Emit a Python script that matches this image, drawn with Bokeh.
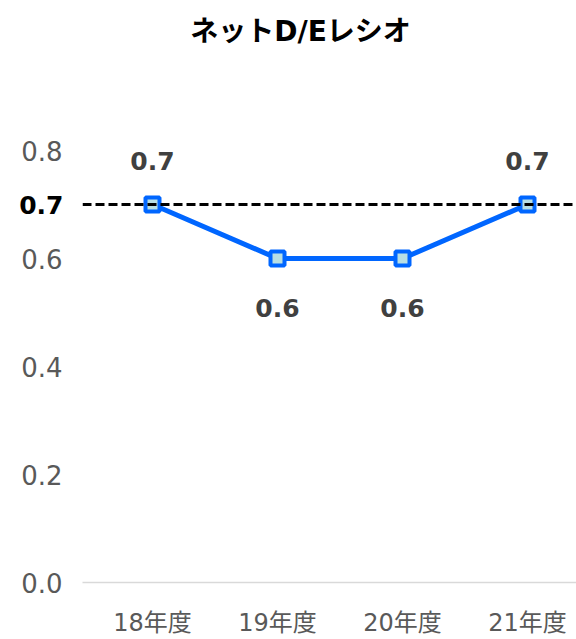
from bokeh.plotting import figure
from bokeh.models import (Range1d, FixedTicker, Span, Label, ColumnDataSource,
                          PrintfTickFormatter, LinearAxis)
from bokeh.core.properties import value
from bokeh.embed import file_html
from bokeh.resources import INLINE

title_text = "ネットD/Eレシオ"
categories = ["18年度", "19年度", "20年度", "21年度"]
values = [0.7, 0.6, 0.6, 0.7]
ref_value = 0.7
y_ticks = [0.0, 0.2, 0.4, 0.6, 0.8]

FONT = "DejaVu Sans, Noto Sans CJK JP"
W, H = 576, 639
LEFT, BOTTOM = 82, 57
frame_h = H - BOTTOM
px_per_unit = 540.0
cat_w = 125.0
first_center = 152 - LEFT

xs = list(range(len(categories)))
x_start = -first_center / cat_w
x_end = x_start + (W - LEFT) / cat_w

p = figure(width=W, height=H, output_backend="svg", toolbar_location=None,
           x_range=Range1d(x_start, x_end), y_range=Range1d(0, frame_h / px_per_unit),
           min_border_left=LEFT, min_border_right=0, min_border_top=0, min_border_bottom=BOTTOM)
p.outline_line_color = None
p.background_fill_color = "white"
p.border_fill_color = "white"
p.xgrid.visible = False
p.ygrid.visible = False


def style_y(ax):
    ax.axis_line_color = None
    ax.major_tick_line_color = None
    ax.minor_tick_line_color = None
    ax.major_tick_out = 0
    ax.major_tick_in = 0
    ax.minor_tick_out = 0
    ax.major_label_text_font = FONT


# main y axis (grey ticks)
p.yaxis.ticker = FixedTicker(ticks=y_ticks)
p.yaxis.formatter = PrintfTickFormatter(format="%.1f")
style_y(p.yaxis[0])
p.yaxis.major_label_standoff = 20
p.yaxis.major_label_text_font_size = "26px"
p.yaxis.major_label_text_color = "#595959"

# second axis carrying only the bold reference value label
ref_axis = LinearAxis(ticker=FixedTicker(ticks=[ref_value]),
                      formatter=PrintfTickFormatter(format="%.1f"))
style_y(ref_axis)
ref_axis.major_label_standoff = -45
ref_axis.major_label_text_font_size = "25px"
ref_axis.major_label_text_font_style = "bold"
ref_axis.major_label_text_color = "black"
p.add_layout(ref_axis, "left")

p.xaxis.ticker = FixedTicker(ticks=xs)
p.xaxis.major_label_overrides = {i: c for i, c in zip(xs, categories)}
p.xaxis.axis_line_color = "#d9d9d9"
p.xaxis.axis_line_width = 1.5
p.xaxis.major_tick_line_color = None
p.xaxis.minor_tick_line_color = None
p.xaxis.major_tick_out = 0
p.xaxis.major_tick_in = 0
p.xaxis.minor_tick_out = 0
p.xaxis.major_label_standoff = 26
p.xaxis.major_label_text_font = FONT
p.xaxis.major_label_text_font_size = "24px"
p.xaxis.major_label_text_color = "#595959"

# reference line
p.add_layout(Span(location=ref_value, dimension="width", line_color="black",
                  line_width=3, line_dash="9 4"))

src = ColumnDataSource(dict(
    x=xs, y=values,
    label=[f"{v:.1f}" for v in values],
    yoff=[-44 if v >= ref_value else 49 for v in values],
))
p.line("x", "y", source=src, line_color="#0066ff", line_width=5)
p.scatter("x", "y", source=src, marker="square", size=14, line_color="#0066ff",
          line_width=4, fill_color="#b8dfe4")
p.text("x", "y", text="label", source=src, y_offset="yoff", text_align="center",
       text_baseline="middle", text_font=value(FONT), text_font_size="25px",
       text_font_style="bold", text_color="#404040")

p.add_layout(Label(x=300 - LEFT, y=frame_h - 31, x_units="screen", y_units="screen",
                   text=title_text, text_align="center", text_baseline="middle",
                   text_font=FONT, text_font_size="28px", text_font_style="bold",
                   text_color="black"))

open("out.html", "w").write(file_html(p, INLINE))
